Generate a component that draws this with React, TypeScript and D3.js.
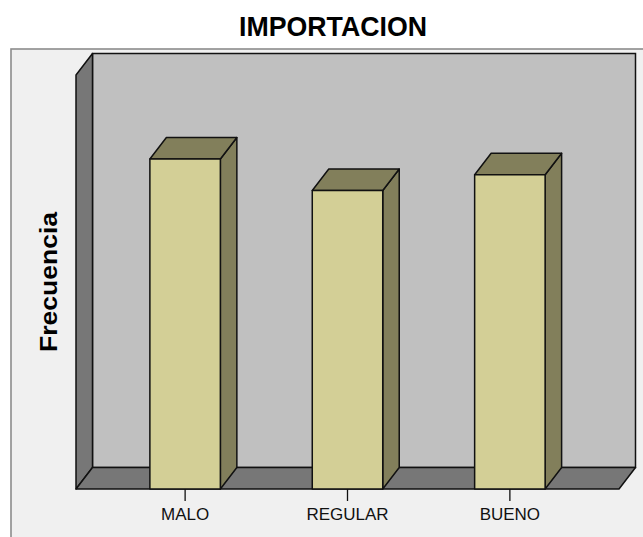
import React from "react";
import * as d3 from "d3";

// Frequencies per rating
const categories = ["MALO", "REGULAR", "BUENO"];
const frequencies = [21, 19, 20];
const yDomainMax = 26.35;

const title = "IMPORTACION";
const yLabel = "Frecuencia";

const W = 643;
const H = 537;

// 3D box geometry (front plane and depth offset)
const front = { left: 76, right: 619, bottom: 489, top: 75 };
const depth = { dx: 16.5, dy: 21.5 };

const FONT = "'Liberation Sans', Arial, Helvetica, sans-serif";

const colors = {
  page: "#ffffff",
  frame: "#f0f0f0",
  frameStroke: "#8c8c8c",
  backWall: "#c0c0c0",
  sideWall: "#777777",
  floor: "#777777",
  barFront: "#d3cf96",
  barShade: "#827f5b",
  outline: "#111111",
};

export default function App() {
  const x = d3
    .scaleBand<string>()
    .domain(categories)
    .range([front.left, front.right])
    .paddingInner(0.566)
    .paddingOuter(0.455);

  const y = d3.scaleLinear().domain([0, yDomainMax]).range([front.bottom, front.top]);

  const { dx, dy } = depth;
  const pts = (p: [number, number][]) => p.map((q) => q.join(",")).join(" ");

  const backLeft = front.left + dx;
  const backRight = front.right + dx;
  const backTop = front.top - dy;
  const backBottom = front.bottom - dy;

  const sw = 1.5;

  return (
    <svg
      width={W}
      height={H}
      style={{ position: "absolute", left: 0, top: 0, background: colors.page }}
      fontFamily={FONT}
    >
      {/* outer chart frame */}
      <rect x={11} y={49} width={W + 40} height={H + 40} fill={colors.frame} stroke={colors.frameStroke} strokeWidth={1.6} />

      {/* title */}
      <text
        x={333}
        y={36}
        textAnchor="middle"
        fontSize={28}
        fontWeight="bold"
        textLength={188}
        lengthAdjust="spacingAndGlyphs"
        fill="#000"
      >
        {title}
      </text>

      {/* back wall */}
      <rect
        x={backLeft}
        y={backTop}
        width={backRight - backLeft}
        height={backBottom - backTop}
        fill={colors.backWall}
        stroke={colors.outline}
        strokeWidth={sw}
      />
      {/* left wall */}
      <polygon
        points={pts([
          [front.left, front.top],
          [backLeft, backTop],
          [backLeft, backBottom],
          [front.left, front.bottom],
        ])}
        fill={colors.sideWall}
        stroke={colors.outline}
        strokeWidth={sw}
        strokeLinejoin="round"
      />
      {/* floor */}
      <polygon
        points={pts([
          [front.left, front.bottom],
          [backLeft, backBottom],
          [backRight, backBottom],
          [front.right, front.bottom],
        ])}
        fill={colors.floor}
        stroke={colors.outline}
        strokeWidth={sw}
        strokeLinejoin="round"
      />

      {/* bars */}
      {categories.map((c, i) => {
        const x0 = x(c)!;
        const x1 = x0 + x.bandwidth();
        const yt = y(frequencies[i]);
        const yb = y(0);
        return (
          <g key={c} stroke={colors.outline} strokeWidth={sw} strokeLinejoin="round">
            <polygon
              points={pts([
                [x1, yt],
                [x1 + dx, yt - dy],
                [x1 + dx, yb - dy],
                [x1, yb],
              ])}
              fill={colors.barShade}
            />
            <polygon
              points={pts([
                [x0, yt],
                [x0 + dx, yt - dy],
                [x1 + dx, yt - dy],
                [x1, yt],
              ])}
              fill={colors.barShade}
            />
            <rect x={x0} y={yt} width={x1 - x0} height={yb - yt} fill={colors.barFront} />
          </g>
        );
      })}

      {/* category axis ticks and labels */}
      {categories.map((c) => {
        const cx = x(c)! + x.bandwidth() / 2;
        return (
          <g key={"t" + c}>
            <line x1={cx} x2={cx} y1={front.bottom} y2={front.bottom + 12} stroke="#111" strokeWidth={1.3} />
            <text x={cx} y={520} textAnchor="middle" fontSize={17} fill="#111">
              {c}
            </text>
          </g>
        );
      })}

      {/* y axis title */}
      <text
        transform={`translate(56.5,282) rotate(-90)`}
        textAnchor="middle"
        fontSize={24}
        fontWeight="bold"
        textLength={140}
        lengthAdjust="spacingAndGlyphs"
        fill="#000"
      >
        {yLabel}
      </text>
    </svg>
  );
}
